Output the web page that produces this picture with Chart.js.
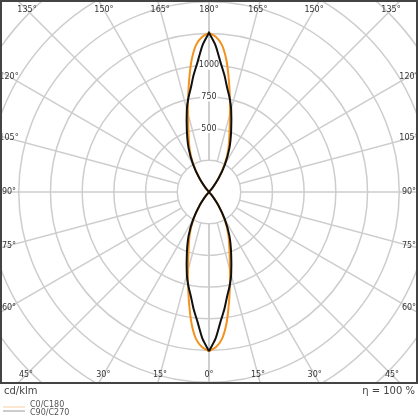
<!DOCTYPE html>
<html><head><meta charset="utf-8">
<script src="https://cdn.jsdelivr.net/npm/chart.js@4/dist/chart.umd.min.js"></script>
<style>html,body{margin:0;padding:0;background:#fff}#wrap{width:420px;height:420px;position:relative}</style>
</head><body><div id="wrap"><canvas id="c" width="420" height="420"></canvas></div>
<script>
// gamma angles (0 = straight down, 180 = straight up)
const gammaDeg = [0,2.5,5,7.5,10,12.5,15,20,25,30,35,40,45,50,60,70,80,90,100,110,120,130,135,140,145,150,155,160,165,167.5,170,172.5,175,177.5,180];
// luminous intensity in cd/klm
const c0c180  = [1255,1225,1165,1050,900,760,640,470,355,240,125,38,0,0,0,0,0,0,0,0,0,0,0,38,125,240,355,470,640,760,900,1050,1165,1225,1255];
const c90c270 = [1255,1160,1030,930,830,755,675,510,380,250,130,40,0,0,0,0,0,0,0,0,0,0,0,40,130,250,380,510,675,755,830,930,1030,1160,1255];
const seriesNames = ['C0/C180','C90/C270'];
const seriesColors = ['#f2921f','#111111'];
const radialGrid = [250,500,750,1000,1250,1500,1750,2000];
const radialLabels = [500,750,1000];
const angleTicks = [0,15,30,45,60,75,90,105,120,135,150,165,180];
const unitText = 'cd/klm';
const effText = 'η = 100 %';

function toXY(vals){
  const pts=[];
  for(let i=0;i<gammaDeg.length;i++){const t=gammaDeg[i]*Math.PI/180;pts.push({x:vals[i]*Math.sin(t),y:-vals[i]*Math.cos(t)});}
  for(let i=gammaDeg.length-1;i>=0;i--){const t=gammaDeg[i]*Math.PI/180;pts.push({x:-vals[i]*Math.sin(t),y:-vals[i]*Math.cos(t)});}
  return pts;
}

const gridPlugin={
  id:'polarGrid',
  beforeDatasetsDraw(chart){
    const {ctx,chartArea:a,scales:{x,y}}=chart;
    const cx=x.getPixelForValue(0), cy=y.getPixelForValue(0);
    const rad=v=>x.getPixelForValue(v)-cx;
    ctx.save();
    ctx.beginPath();ctx.rect(a.left,a.top,a.right-a.left,a.bottom-a.top);ctx.clip();
    ctx.strokeStyle='#cdcdcd';ctx.lineWidth=1.5;
    radialGrid.forEach(v=>{ctx.beginPath();ctx.arc(cx,cy,rad(v),0,Math.PI*2);ctx.stroke();});
    const r0=rad(radialGrid[0]);
    angleTicks.forEach(g=>{[1,-1].forEach(s=>{
      const t=g*Math.PI/180,dx=s*Math.sin(t),dy=Math.cos(t);
      ctx.beginPath();ctx.moveTo(cx+dx*r0,cy+dy*r0);ctx.lineTo(cx+dx*800,cy+dy*800);ctx.stroke();
    });});
    // angle labels
    ctx.font='8px "DejaVu Sans"';ctx.fillStyle='#333';ctx.textAlign='center';ctx.textBaseline='middle';
    const L=a.left+8,R=a.right-8,T=a.top+9,B=a.bottom-8;
    angleTicks.forEach(g=>{
      const sides=(g===0||g===180)?[1]:[1,-1];
      sides.forEach(s=>{
        const t=g*Math.PI/180,dx=s*Math.sin(t),dy=Math.cos(t);
        let k=Infinity;
        if(dx>1e-9)k=Math.min(k,(R-cx)/dx);
        if(dx<-1e-9)k=Math.min(k,(L-cx)/dx);
        if(dy>1e-9)k=Math.min(k,(B-cy)/dy);
        if(dy<-1e-9)k=Math.min(k,(T-cy)/dy);
        ctx.fillText(g+'°',cx+dx*k,cy+dy*k);
      });
    });
    // radial labels along the 180° line
    ctx.font='8px "DejaVu Sans"';
    radialLabels.forEach(v=>{
      const py=cy-rad(v),txt=String(v),w=ctx.measureText(txt).width;
      ctx.fillStyle='#fff';ctx.fillRect(cx-w/2-1,py-4.5,w+2,9);
      ctx.fillStyle='#333';ctx.fillText(txt,cx,py);
    });
    ctx.restore();
  },
  afterDraw(chart){
    const {ctx,chartArea:a}=chart;
    ctx.save();
    ctx.strokeStyle='#444';ctx.lineWidth=2;
    ctx.strokeRect(a.left,a.top,a.right-a.left,a.bottom-a.top);
    ctx.fillStyle='#444';ctx.textBaseline='middle';
    ctx.font='10px "DejaVu Sans"';
    ctx.textAlign='left';ctx.fillText(unitText,4,a.bottom+8);
    ctx.textAlign='right';ctx.fillText(effText,415,a.bottom+8);
    // legend
    ctx.font='8px "DejaVu Sans"';ctx.textAlign='left';
    ctx.lineWidth=1;
    ctx.strokeStyle='#f7cf9f';ctx.beginPath();ctx.moveTo(3,a.bottom+24);ctx.lineTo(25,a.bottom+24);ctx.stroke();
    ctx.strokeStyle='#9a9a9a';ctx.beginPath();ctx.moveTo(3,a.bottom+28);ctx.lineTo(25,a.bottom+28);ctx.stroke();
    ctx.fillStyle='#555';
    ctx.fillText(seriesNames[0],30,a.bottom+22);
    ctx.fillText(seriesNames[1],30,a.bottom+30);
    ctx.restore();
  }
};

new Chart(document.getElementById('c'),{
  type:'scatter',
  data:{datasets:[
    {label:seriesNames[0],data:toXY(c0c180),showLine:true,borderColor:seriesColors[0],borderWidth:2,pointRadius:0,tension:0.25,fill:false,order:2},
    {label:seriesNames[1],data:toXY(c90c270),showLine:true,borderColor:seriesColors[1],borderWidth:2,pointRadius:0,tension:0.25,fill:false,order:1}
  ]},
  options:{
    responsive:false,animation:false,
    layout:{padding:{left:1,top:1,right:3,bottom:37}},
    scales:{
      x:{type:'linear',min:-1640,max:1640,display:false},
      y:{type:'linear',min:-1506,max:1506,display:false}
    },
    plugins:{legend:{display:false},tooltip:{enabled:false}}
  },
  plugins:[gridPlugin]
});
</script></body></html>
